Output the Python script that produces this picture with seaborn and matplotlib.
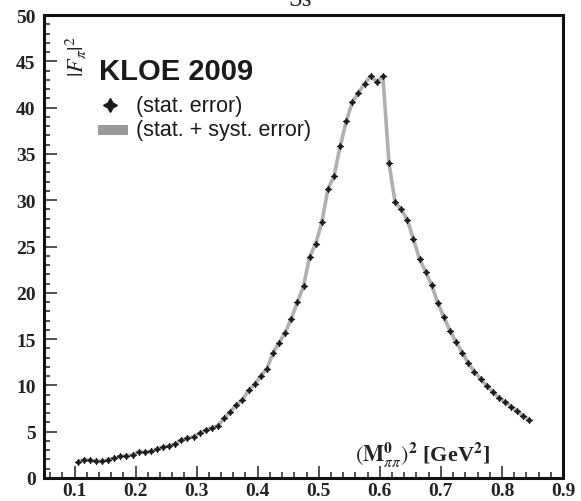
import matplotlib
matplotlib.use("Agg")
import matplotlib.pyplot as plt
from matplotlib.ticker import MultipleLocator
from matplotlib.patches import Rectangle
import seaborn as sns
import pandas as pd

# ---- data ----
s_bins = [0.105, 0.115, 0.125, 0.135, 0.145, 0.155, 0.165, 0.175, 0.185, 0.195,
          0.205, 0.215, 0.225, 0.235, 0.245, 0.255, 0.265, 0.275, 0.285, 0.295,
          0.305, 0.315, 0.325, 0.335, 0.345, 0.355, 0.365, 0.375, 0.385, 0.395,
          0.405, 0.415, 0.425, 0.435, 0.445, 0.455, 0.465, 0.475, 0.485, 0.495,
          0.505, 0.515, 0.525, 0.535, 0.545, 0.555, 0.565, 0.575, 0.585, 0.595,
          0.605, 0.615, 0.625, 0.635, 0.645, 0.655, 0.665, 0.675, 0.685, 0.695,
          0.705, 0.715, 0.725, 0.735, 0.745, 0.755, 0.765, 0.775, 0.785, 0.795,
          0.805, 0.815, 0.825, 0.835, 0.845]
f_pi_sq = [1.70, 1.98, 1.94, 1.80, 1.80, 1.98, 2.16, 2.34, 2.40, 2.48,
           2.84, 2.77, 2.88, 3.13, 3.38, 3.45, 3.67, 4.14, 4.28, 4.46,
           4.85, 5.15, 5.40, 5.65, 6.45, 7.15, 7.90, 8.45, 9.45, 10.1,
           11.0, 11.8, 13.5, 14.6, 15.7, 17.2, 19.0, 20.7, 23.9, 25.3,
           27.6, 31.2, 32.6, 35.8, 38.5, 40.6, 41.6, 42.6, 43.4, 42.8,
           43.4, 34.0, 29.8, 29.0, 27.9, 25.8, 23.65, 22.3, 20.8, 18.9,
           17.35, 15.9, 14.65, 13.55, 12.4, 11.5, 10.7, 9.97, 9.3, 8.67,
           8.24, 7.7, 7.2, 6.66, 6.26]
x_ticks = [0.1, 0.2, 0.3, 0.4, 0.5, 0.6, 0.7, 0.8, 0.9]
y_ticks = [0, 5, 10, 15, 20, 25, 30, 35, 40, 45, 50]

df = pd.DataFrame({"s": s_bins, "F2": f_pi_sq})

sns.set_theme(style="ticks")
plt.rcParams["font.family"] = ["Liberation Serif", "DejaVu Serif"]
plt.rcParams["mathtext.fontset"] = "stix"

fig = plt.figure(figsize=(5.81, 5.02), dpi=100)
ax = fig.add_axes([44 / 581, 23 / 502, 519 / 581, 463 / 502])

# grey band (stat + syst)
sns.lineplot(data=df, x="s", y="F2", ax=ax, color="#b0b0b0", linewidth=2.6,
             zorder=2, legend=False)
# points (stat error)
sns.scatterplot(data=df, x="s", y="F2", ax=ax, marker=(4, 1, 0), s=22,
                color="#1a1a1a", edgecolor="#1a1a1a", linewidth=0.6, zorder=3,
                legend=False)

ax.set_xlim(0.05, 0.9)
ax.set_ylim(0, 50)
ax.set_xticks(x_ticks)
ax.set_yticks(y_ticks)
ax.set_xticklabels([f"{v:.1f}" for v in x_ticks])
ax.set_yticklabels([str(v) for v in y_ticks])
ax.xaxis.set_minor_locator(MultipleLocator(0.02))
ax.yaxis.set_minor_locator(MultipleLocator(1))
ax.tick_params(which="both", direction="in", color="#222222", width=1.1,
               bottom=True, left=True, top=False, right=False)
ax.tick_params(which="major", length=9)
ax.tick_params(which="minor", length=4.5)
ax.tick_params(axis="x", which="major", pad=3)
ax.tick_params(axis="y", which="major", pad=6)
for lab in ax.get_xticklabels() + ax.get_yticklabels():
    lab.set_fontsize(14)
    lab.set_fontweight("bold")
    lab.set_color("#222222")
for sp in ax.spines.values():
    sp.set_visible(True)
    sp.set_color("#111111")
    sp.set_linewidth(2.2)
    sp.set_zorder(5)
ax.set_xlabel("")
ax.set_ylabel("")

# axis labels inside the frame (ROOT style)
ax.text(0.062, 0.958, r"$|F_{\pi}|^{2}$", transform=ax.transAxes,
        rotation=90, ha="center", va="top", fontsize=16, color="#222222")
ax.text(0.86, 0.052, r"$(\mathbf{M}^{\mathbf{0}}_{\pi\pi})^{\mathbf{2}}$ [GeV$^{\mathbf{2}}$]",
        transform=ax.transAxes, ha="right", va="center", fontsize=16,
        fontweight="bold", color="#222222")

# legend block
ax.text(0.106, 0.879, "KLOE 2009", transform=ax.transAxes, ha="left",
        va="center", fontsize=21, fontweight="bold", family="Liberation Sans",
        color="#1a1a1a")
ax.plot([0.127], [0.805], transform=ax.transAxes, marker=(4, 1, 0),
        markersize=10, color="#1a1a1a", linestyle="none")
ax.add_patch(Rectangle((0.104, 0.741), 0.058, 0.022, transform=ax.transAxes,
                       facecolor="#999999", edgecolor="none"))
ax.text(0.178, 0.805, "(stat. error)", transform=ax.transAxes, ha="left",
        va="center", fontsize=15.5, family="Liberation Sans", color="#1a1a1a")
ax.text(0.178, 0.752, "(stat. + syst. error)", transform=ax.transAxes,
        ha="left", va="center", fontsize=15.5, family="Liberation Sans",
        color="#1a1a1a")

# clipped title fragment at the very top (as in the reference)
fig.text(300 / 581, 1.0, "Ss", ha="center", va="center", fontsize=18,
         color="#222222")

fig.savefig("out.png", dpi=100)
